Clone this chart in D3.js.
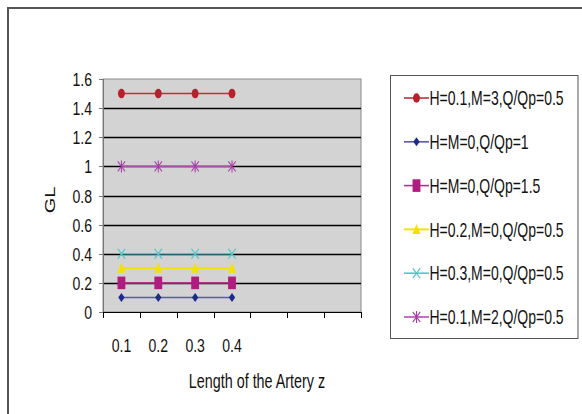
<!DOCTYPE html>
<html>
<head>
<meta charset="utf-8">
<script src="https://cdn.jsdelivr.net/npm/d3@7"></script>
<style>
  html, body { margin: 0; padding: 0; background: #fff; }
  text { font-family: "Liberation Sans", Arial, sans-serif; fill: #111; }
</style>
</head>
<body>
<svg id="chart" width="582" height="414"></svg>
<script>
// categories on the x axis (only first four carry a label)
var categories = ["c1", "c2", "c3", "c4", "c5", "c6", "c7"];
var catLabels = ["0.1", "0.2", "0.3", "0.4", "", "", ""];
var yTicks = [0, 0.2, 0.4, 0.6, 0.8, 1, 1.2, 1.4, 1.6];

var seriesNames = ["H=0.1,M=3,Q/Qp=0.5", "H=M=0,Q/Qp=1", "H=M=0,Q/Qp=1.5",
                   "H=0.2,M=0,Q/Qp=0.5", "H=0.3,M=0,Q/Qp=0.5", "H=0.1,M=2,Q/Qp=0.5"];
var s1 = [1.5, 1.5, 1.5, 1.5];
var s2 = [0.1, 0.1, 0.1, 0.1];
var s3 = [0.2, 0.2, 0.2, 0.2];
var s4 = [0.3, 0.3, 0.3, 0.3];
var s5 = [0.4, 0.4, 0.4, 0.4];
var s6 = [1, 1, 1, 1];
var seriesValues = [s1, s2, s3, s4, s5, s6];

var lineColors = ["#c0303a", "#5a5aa8", "#b8308a", "#f2e200", "#50c8c8", "#b050b0"];
var markColors = ["#b8202c", "#1c2a8c", "#b01c80", "#f2e200", "#50c8c8", "#a83ca8"];
var markTypes = ["circle", "diamond", "square", "triangle", "x", "star"];

var svg = d3.select("#chart");
var sx = 0.7; // picture is squeezed horizontally

// outer frame (only top and left visible)
svg.append("path")
  .attr("d", "M8,414V8H582")
  .attr("fill", "none")
  .attr("stroke", "#555")
  .attr("stroke-width", 2);

var plotL = 103, plotR = 361, plotT = 79, plotB = 312;

var x = d3.scaleBand().domain(categories).range([plotL, plotR]);
var y = d3.scaleLinear().domain([0, 1.6]).range([plotB, plotT]);

// plot background
svg.append("rect")
  .attr("x", plotL).attr("y", plotT)
  .attr("width", plotR - plotL).attr("height", plotB - plotT)
  .attr("fill", "#d3d3d3")
  .attr("stroke", "#8a8a8a");

// gridlines
svg.append("g").selectAll("line")
  .data(yTicks.filter(d => d > 0 && d < 1.6))
  .enter().append("line")
  .attr("x1", plotL).attr("x2", plotR)
  .attr("y1", d => Math.round(y(d)) + 0.5).attr("y2", d => Math.round(y(d)) + 0.5)
  .attr("stroke", "#000")
  .attr("stroke-width", 1.3);

// y axis
svg.append("line")
  .attr("x1", plotL + 0.5).attr("x2", plotL + 0.5)
  .attr("y1", plotT).attr("y2", plotB)
  .attr("stroke", "#777");
svg.append("g").selectAll("line")
  .data(yTicks).enter().append("line")
  .attr("x1", plotL - 4).attr("x2", plotL)
  .attr("y1", d => Math.round(y(d)) + 0.5).attr("y2", d => Math.round(y(d)) + 0.5)
  .attr("stroke", "#777");
svg.append("g").selectAll("text")
  .data(yTicks).enter().append("text")
  .attr("transform", d => "translate(92," + (y(d) + 7) + ") scale(" + 0.74 + ",1)")
  .attr("text-anchor", "end")
  .attr("font-size", 19)
  .text(d => d);

// x axis
svg.append("line")
  .attr("x1", plotL).attr("x2", plotR)
  .attr("y1", plotB + 0.5).attr("y2", plotB + 0.5)
  .attr("stroke", "#000");
var edges = categories.map(c => x(c)).concat([x(categories[categories.length - 1]) + x.bandwidth()]);
svg.append("g").selectAll("line")
  .data(edges).enter().append("line")
  .attr("x1", d => Math.round(d) + 0.5).attr("x2", d => Math.round(d) + 0.5)
  .attr("y1", plotB).attr("y2", plotB + 6)
  .attr("stroke", "#000");
svg.append("g").selectAll("text")
  .data(categories).enter().append("text")
  .attr("transform", d => "translate(" + (x(d) + x.bandwidth() / 2) + ",351.5) scale(" + 0.74 + ",1)")
  .attr("text-anchor", "middle")
  .attr("font-size", 19)
  .text((d, i) => catLabels[i]);

// axis titles
svg.append("text")
  .attr("transform", "translate(257,388) scale(" + sx + ",1)")
  .attr("text-anchor", "middle")
  .attr("font-size", 20.5)
  .text("Length of the Artery z");
svg.append("text")
  .attr("transform", "translate(54.5,200) rotate(-90) scale(1," + sx + ")")
  .attr("text-anchor", "middle")
  .attr("font-size", 20)
  .text("GL");

// marker drawing
function drawMarker(g, type, cx, cy, color) {
  var m = g.append("g").attr("transform", "translate(" + cx + "," + cy + ") scale(0.74,1)");
  if (type === "circle") {
    m.append("circle").attr("r", 4.7).attr("fill", color);
  } else if (type === "diamond") {
    m.append("path").attr("d", "M0,-4.5L4.3,0L0,4.5L-4.3,0Z").attr("fill", color);
  } else if (type === "square") {
    m.append("rect").attr("x", -5.3).attr("y", -6.3).attr("width", 10.6).attr("height", 12.6).attr("fill", color);
  } else if (type === "triangle") {
    m.append("path").attr("d", "M0,-5.5L5.5,4.5L-5.5,4.5Z").attr("fill", color);
  } else if (type === "x") {
    m.append("path").attr("d", "M-5,-5L5,5M-5,5L5,-5")
      .attr("stroke", color).attr("stroke-width", 1.4).attr("fill", "none");
  } else if (type === "star") {
    m.append("path").attr("d", "M-5,-5L5,5M-5,5L5,-5M0,-6V6")
      .attr("stroke", color).attr("stroke-width", 1.4).attr("fill", "none");
  }
}

// series
var line = d3.line()
  .x((d, i) => x(categories[i]) + x.bandwidth() / 2)
  .y(d => y(d));

seriesValues.forEach(function (vals, k) {
  var g = svg.append("g");
  g.append("path")
    .attr("d", line(vals))
    .attr("fill", "none")
    .attr("stroke", lineColors[k])
    .attr("stroke-width", k === 3 ? 2 : 1.6);
  vals.forEach(function (v, i) {
    drawMarker(g, markTypes[k], x(categories[i]) + x.bandwidth() / 2, y(v), markColors[k]);
  });
});

// legend
svg.append("rect")
  .attr("x", 390.5).attr("y", 75.5)
  .attr("width", 187.5).attr("height", 263)
  .attr("fill", "#fff")
  .attr("stroke", "#555");

seriesNames.forEach(function (name, k) {
  var ly = 98 + k * 43.8;
  var g = svg.append("g");
  g.append("line")
    .attr("x1", 404).attr("x2", 429)
    .attr("y1", ly).attr("y2", ly)
    .attr("stroke", lineColors[k])
    .attr("stroke-width", k === 3 ? 2 : 1.6);
  drawMarker(g, markTypes[k], 416.5, ly, markColors[k]);
  g.append("text")
    .attr("transform", "translate(429.5," + (ly + 7.2) + ") scale(" + sx + ",1)")
    .attr("font-size", 20)
    .text(name);
});
</script>
</body>
</html>
